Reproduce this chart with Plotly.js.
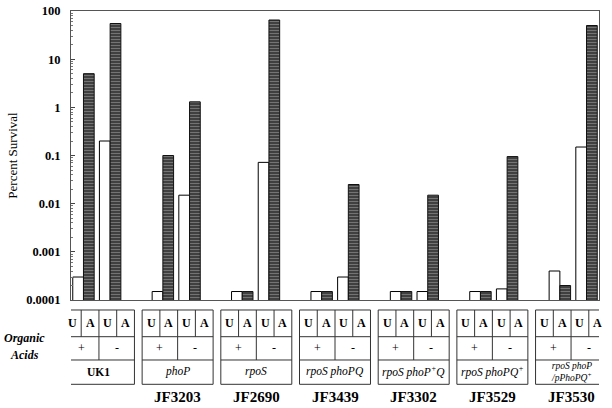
<!DOCTYPE html>
<html>
<head>
<meta charset="utf-8">
<script src="https://cdn.plot.ly/plotly-3.0.1.min.js"></script>
<style>html,body{margin:0;padding:0;background:#fff;}#chart{width:612px;height:408px;}</style>
</head>
<body>
<div id="chart"></div>
<script>
// ---- data ----
const strains = ['', 'JF3203', 'JF2690', 'JF3439', 'JF3302', 'JF3529', 'JF3530'];
const genotypes = ['<b>UK1</b>', '<i>phoP</i>', '<i>rpoS</i>', '<i>rpoS phoPQ</i>',
  '<i>rpoS phoP<sup>+</sup>Q</i>', '<i>rpoS phoPQ<sup>+</sup></i>',
  '<i>rpoS phoP<br>/pPhoPQ<sup>+</sup></i>'];
const conditions = ['U', 'A', 'U', 'A'];
const acidSigns = ['+', '-'];
// percent survival: U / A; +/- organic acids
const uPlus  = [0.0003, 0.00015, 0.00015, 0.00015, 0.00015, 0.00015, 0.0004];
const aPlus  = [5, 0.1, 0.00015, 0.00015, 0.00015, 0.00015, 0.0002];
const uMinus = [0.2, 0.015, 0.072, 0.0003, 0.00015, 0.00017, 0.15];
const aMinus = [55, 1.3, 65, 0.025, 0.015, 0.095, 50];
const yTicks = [0.0001, 0.001, 0.01, 0.1, 1, 10, 100];
const yTickText = ['0.0001', '0.001', '0.01', '0.1', '1', '10', '100'];

const serif = '"Liberation Serif", "Times New Roman", Times, serif';
const idx = strains.map((_, i) => i);
const bw = 0.135;
const pairGap = 0.066;
const start = -(4 * bw + pairGap) / 2;
const offsets = [start, start + bw, start + 2 * bw + pairGap, start + 3 * bw + pairGap];
const xRange = [-0.325, 6.325];
const toPaper = x => (x - xRange[0]) / (xRange[1] - xRange[0]);
const tableCenter = i => 3 + (i - 3) * 0.991;

const white = {color: '#ffffff', line: {color: '#000', width: 1}};
const hatched = {color: '#444444', line: {color: '#111', width: 1},
  pattern: {shape: '-', fgcolor: '#747474', bgcolor: '#404040', size: 3, solidity: 0.33}};

const series = [uPlus, aPlus, uMinus, aMinus];
const markers = [white, hatched, white, hatched];
const names = ['U +', 'A +', 'U -', 'A -'];
const traces = series.map((vals, k) => ({
  type: 'bar', x: idx, y: vals, name: names[k], offset: offsets[k], width: bw,
  marker: markers[k], hoverinfo: 'y'
}));

// minor ticks
const minorVals = [];
for (let d = -4; d < 2; d++) for (let m = 2; m <= 9; m++) minorVals.push(m * Math.pow(10, d));

// table geometry (paper y)
const yTop = -0.0346, y1 = -0.127, y2 = -0.2076, yBot = -0.2917;
const half = 0.447, col = half / 2;
const shapes = [];
const annotations = [];
const lineStyle = {color: '#333', width: 1};
function ann(o) {
  return Object.assign({showarrow: false, xanchor: 'center', yanchor: 'middle', xref: 'paper', yref: 'paper'}, o);
}
idx.forEach(i => {
  const c = tableCenter(i);
  shapes.push({type: 'rect', xref: 'x', yref: 'paper', x0: c - half, x1: c + half, y0: yBot, y1: yTop, line: lineStyle});
  [y1, y2].forEach(yy => shapes.push({type: 'line', xref: 'x', yref: 'paper', x0: c - half, x1: c + half, y0: yy, y1: yy, line: lineStyle}));
  [-col, 0, col].forEach(dx => shapes.push({type: 'line', xref: 'x', yref: 'paper', x0: c + dx, x1: c + dx, y0: yTop, y1: y1, line: lineStyle}));
  shapes.push({type: 'line', xref: 'x', yref: 'paper', x0: c, x1: c, y0: y1, y1: y2, line: lineStyle});
  conditions.forEach((t, k) => annotations.push(ann({x: toPaper(c - half + col * (k + 0.5)), y: -0.0796,
    text: '<b>' + t + '</b>', font: {family: serif, size: 12, color: '#000'}})));
  acidSigns.forEach((s, k) => annotations.push(ann({x: toPaper(c - col + 2 * col * k), y: -0.166,
    text: s, font: {family: serif, size: 12, color: '#000'}})));
  const twoLine = genotypes[i].indexOf('<br>') >= 0;
  annotations.push(ann({x: toPaper(c), y: -0.249, text: genotypes[i],
    font: {family: serif, size: twoLine ? 9.5 : 11.5, color: '#000'}}));
  if (strains[i]) annotations.push(ann({x: toPaper(c), y: -0.3356, text: '<b>' + strains[i] + '</b>',
    font: {family: serif, size: 15, color: '#000'}}));
});
annotations.push(ann({x: -0.089, y: -0.1315, text: '<b><i>Organic</i></b>',
  font: {family: serif, size: 12, color: '#000'}}));
annotations.push(ann({x: -0.089, y: -0.190, text: '<b><i>Acids</i></b>',
  font: {family: serif, size: 12, color: '#000'}}));

const layout = {
  width: 612, height: 408,
  margin: {l: 71, r: 13, t: 11, b: 108},
  font: {family: serif, color: '#000'},
  paper_bgcolor: '#fff', plot_bgcolor: '#fff',
  barmode: 'overlay', showlegend: false,
  xaxis: {range: xRange, showticklabels: false, ticks: '', showgrid: false, zeroline: false,
    showline: true, mirror: true, linecolor: '#555', linewidth: 1, fixedrange: true},
  yaxis: {type: 'log', range: [-4, 2], tickmode: 'array', tickvals: yTicks,
    ticktext: yTickText.map(t => '<b>' + t + '</b>'),
    ticks: 'inside', ticklen: 4, tickcolor: '#444', showgrid: false, zeroline: false,
    showline: true, mirror: true, linecolor: '#555', linewidth: 1, ticklabelstandoff: 7,
    minor: {tickmode: 'array', tickvals: minorVals, ticks: 'inside', ticklen: 2, tickcolor: '#777', showgrid: false},
    tickfont: {family: serif, size: 12.5, color: '#000'},
    title: {text: 'Percent Survival', font: {family: serif, size: 13, color: '#000'}, standoff: 5},
    fixedrange: true},
  shapes: shapes,
  annotations: annotations
};

Plotly.newPlot('chart', traces, layout, {displayModeBar: false, staticPlot: true});
</script>
</body>
</html>
